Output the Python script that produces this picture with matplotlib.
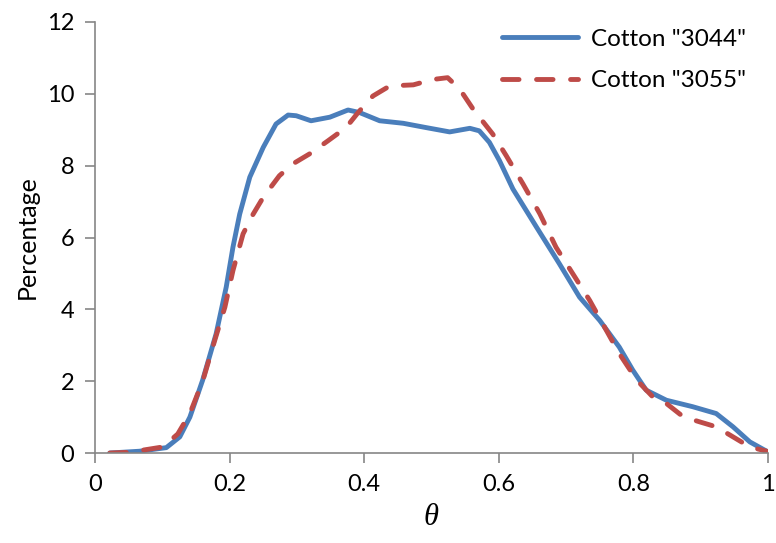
import matplotlib.pyplot as plt

# blue solid series, Cotton "3044"
theta_3044 = [0.022, 0.066, 0.106, 0.126, 0.141, 0.160, 0.180, 0.195, 0.205, 0.215,
              0.230, 0.250, 0.269, 0.287, 0.299, 0.321, 0.349, 0.376, 0.393, 0.423,
              0.458, 0.492, 0.527, 0.557, 0.571, 0.586, 0.601, 0.621, 0.656, 0.690,
              0.720, 0.750, 0.779, 0.799, 0.819, 0.849, 0.888, 0.923, 0.948, 0.973, 0.998]
pct_3044 = [0.0, 0.05, 0.15, 0.45, 1.0, 2.03, 3.32, 4.62, 5.73, 6.65,
            7.68, 8.51, 9.16, 9.41, 9.39, 9.25, 9.35, 9.55, 9.48, 9.25,
            9.18, 9.06, 8.94, 9.04, 8.97, 8.65, 8.14, 7.35, 6.29, 5.27,
            4.34, 3.69, 2.95, 2.31, 1.75, 1.47, 1.29, 1.10, 0.73, 0.31, 0.05]

# red dashed series, Cotton "3055"
theta_3055 = [0.022, 0.051, 0.101, 0.123, 0.141, 0.160, 0.178, 0.193, 0.205, 0.220,
              0.235, 0.250, 0.274, 0.294, 0.319, 0.346, 0.373, 0.391, 0.413, 0.438,
              0.473, 0.502, 0.524, 0.542, 0.562, 0.591, 0.611, 0.636, 0.661, 0.685,
              0.710, 0.735, 0.757, 0.779, 0.805, 0.829, 0.849, 0.874, 0.898, 0.923,
              0.948, 0.973, 0.998]
pct_3055 = [0.0, 0.02, 0.17, 0.53, 1.1, 2.0, 3.14, 4.06, 5.08, 6.1,
            6.65, 7.12, 7.72, 8.05, 8.33, 8.69, 9.06, 9.48, 9.94, 10.22,
            10.25, 10.4, 10.45, 10.13, 9.57, 8.88, 8.28, 7.49, 6.66, 5.73,
            4.99, 4.25, 3.51, 2.77, 2.03, 1.56, 1.38, 1.01, 0.87, 0.73,
            0.45, 0.17, 0.05]

x_ticks = [0, 0.2, 0.4, 0.6, 0.8, 1]
x_labels = ['0', '0.2', '0.4', '0.6', '0.8', '1']
y_ticks = [0, 2, 4, 6, 8, 10, 12]

plt.rcParams['font.family'] = ['Lato', 'DejaVu Sans']

fig = plt.figure(figsize=(7.76, 5.43), dpi=100)
ax = fig.add_axes([0.1224, 0.1657, 0.8673, 0.7938])

ax.plot(theta_3044, pct_3044, color='#4A7EBB', lw=3.5, label='Cotton "3044"',
        solid_capstyle='round', solid_joinstyle='round')
ax.plot(theta_3055, pct_3055, color='#BE4B48', lw=3.5, label='Cotton "3055"',
        linestyle=(0, (3.4, 3.6)), dash_capstyle='round', dash_joinstyle='round')

ax.set_xlim(0, 1)
ax.set_ylim(0, 12)
ax.set_xticks(x_ticks)
ax.set_xticklabels(x_labels)
ax.set_yticks(y_ticks)

for side in ['top', 'right']:
    ax.spines[side].set_visible(False)
for side in ['left', 'bottom']:
    ax.spines[side].set_color('#868686')
    ax.spines[side].set_linewidth(1.2)
ax.tick_params(direction='out', length=7, width=1.2, color='#868686',
               labelsize=17, pad=8)

ax.set_ylabel('Percentage', fontsize=18, labelpad=6)
ax.set_xlabel('θ', fontsize=22, labelpad=6, family='Liberation Serif', style='italic')

ax.legend(loc='upper right', frameon=False, fontsize=17.5, handlelength=3.1,
          handletextpad=0.55, bbox_to_anchor=(1.0, 1.035), labelspacing=0.85)

fig.savefig('out.png', dpi=100)
